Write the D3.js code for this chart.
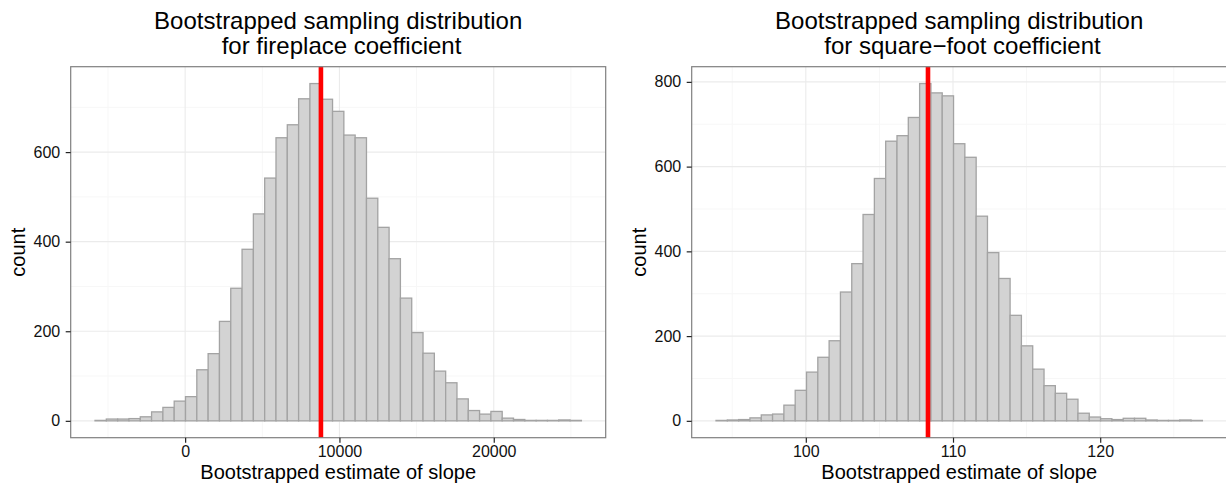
<!DOCTYPE html>
<html>
<head>
<meta charset="utf-8">
<script src="https://cdn.jsdelivr.net/npm/d3@7"></script>
<style>
  body { margin: 0; background: #fff; }
  text { font-family: "Liberation Sans", Arial, Helvetica, sans-serif; }
</style>
</head>
<body>
<div id="chart"></div>
<script>
// histogram counts (43 bins each)
const fireplaceCounts = [1, 4, 4, 5, 9, 20, 30, 44, 54, 114, 150, 222, 296, 383, 462, 542, 632, 661, 719, 753,
  718, 691, 638, 632, 497, 432, 362, 274, 197, 151, 111, 85, 49, 23, 15, 21, 6, 3, 1, 1, 1, 2, 1];
const fireplaceBinStart = -5840;
const fireplaceBinWidth = 733;
const fireplaceEstimate = 8800;

const sqftCounts = [1, 2, 3, 7, 14, 16, 37, 72, 115, 150, 189, 304, 371, 487, 572, 660, 673, 716, 796, 774,
  767, 654, 622, 483, 397, 336, 249, 177, 122, 83, 65, 51, 18, 9, 5, 3, 6, 6, 2, 1, 1, 2, 1];
const sqftBinStart = 93.9;
const sqftBinWidth = 0.7684;
const sqftEstimate = 108.3;

// tick labels
const fireplaceXTicks = [0, 10000, 20000];
const fireplaceXMinor = [-5000, 5000, 15000, 25000];
const fireplaceYTicks = [0, 200, 400, 600];
const sqftXTicks = [100, 110, 120];
const sqftXMinor = [95, 105, 115, 125];
const sqftYTicks = [0, 200, 400, 600, 800];
const yMinor = [100, 300, 500, 700];

const titles = [
  ["Bootstrapped sampling distribution", " for fireplace coefficient"],
  ["Bootstrapped sampling distribution", " for square\u2212foot coefficient"]
];
const xTitle = "Bootstrapped estimate of slope";
const yTitle = "count";

const width = 1226, height = 491;
const svg = d3.select("#chart").append("svg")
  .attr("width", width)
  .attr("height", height);

function drawPanel(opts) {
  const { left, counts, binStart, binWidth, estimate, xTicks, xMinor, yTicks, title } = opts;
  const top = 66.7, panelW = 535, panelH = 371;

  const bins = counts.map((c, i) => ({ x0: binStart + i * binWidth, x1: binStart + (i + 1) * binWidth, count: c }));
  const xMin = bins[0].x0, xMax = bins[bins.length - 1].x1;
  const xPad = (xMax - xMin) * 0.05;
  const yMax = d3.max(counts);

  const x = d3.scaleLinear().domain([xMin - xPad, xMax + xPad]).range([0, panelW]);
  const y = d3.scaleLinear().domain([-yMax * 0.05, yMax * 1.05]).range([panelH, 0]);

  const g = svg.append("g").attr("transform", `translate(${left},${top})`);

  // minor grid
  g.selectAll(".xminor").data(xMinor).enter().append("line")
    .attr("x1", d => x(d)).attr("x2", d => x(d))
    .attr("y1", 0).attr("y2", panelH)
    .attr("stroke", "#f7f7f7").attr("stroke-width", 1);
  g.selectAll(".yminor").data(yMinor.filter(d => y(d) > 0)).enter().append("line")
    .attr("x1", 0).attr("x2", panelW)
    .attr("y1", d => y(d)).attr("y2", d => y(d))
    .attr("stroke", "#f7f7f7").attr("stroke-width", 1);
  // major grid
  g.selectAll(".xmajor").data(xTicks).enter().append("line")
    .attr("x1", d => x(d)).attr("x2", d => x(d))
    .attr("y1", 0).attr("y2", panelH)
    .attr("stroke", "#ebebeb").attr("stroke-width", 1.1);
  g.selectAll(".ymajor").data(yTicks).enter().append("line")
    .attr("x1", 0).attr("x2", panelW)
    .attr("y1", d => y(d)).attr("y2", d => y(d))
    .attr("stroke", "#ebebeb").attr("stroke-width", 1.1);

  // bars
  g.selectAll(".bar").data(bins).enter().append("rect")
    .attr("x", d => x(d.x0))
    .attr("y", d => y(d.count))
    .attr("width", d => x(d.x1) - x(d.x0))
    .attr("height", d => y(0) - y(d.count))
    .attr("fill", "#d3d3d3")
    .attr("stroke", "#a3a3a3")
    .attr("stroke-width", 1.3);

  // estimate line
  g.append("line")
    .attr("x1", x(estimate)).attr("x2", x(estimate))
    .attr("y1", 0).attr("y2", panelH)
    .attr("stroke", "red").attr("stroke-width", 4.6);

  // border
  g.append("rect")
    .attr("width", panelW).attr("height", panelH)
    .attr("fill", "none").attr("stroke", "#7f7f7f").attr("stroke-width", 1.2);

  // axes
  const xAxis = g.append("g")
    .attr("transform", `translate(0,${panelH})`)
    .call(d3.axisBottom(x).tickValues(xTicks).tickSize(5).tickPadding(3).tickFormat(d3.format("d")));
  const yAxis = g.append("g")
    .call(d3.axisLeft(y).tickValues(yTicks).tickSize(5).tickPadding(5.5).tickFormat(d3.format("d")));
  [xAxis, yAxis].forEach(a => {
    a.select(".domain").remove();
    a.selectAll(".tick line").attr("stroke", "#222").attr("stroke-width", 1.2);
    a.selectAll(".tick text")
      .attr("font-family", "Liberation Sans, Arial, sans-serif")
      .attr("font-size", 16).attr("fill", "#111");
  });

  // axis titles
  g.append("text")
    .attr("x", panelW / 2).attr("y", panelH + 41.5)
    .attr("text-anchor", "middle").attr("font-size", 20).attr("fill", "#000")
    .text(xTitle);
  g.append("text")
    .attr("transform", `translate(-46,${panelH / 2}) rotate(-90)`)
    .attr("text-anchor", "middle").attr("font-size", 20).attr("fill", "#000")
    .text(yTitle);

  // title
  const t = g.append("text")
    .attr("text-anchor", "middle").attr("font-size", 24).attr("fill", "#000")
    .style("white-space", "pre");
  title.forEach((line, i) => {
    t.append("tspan").attr("x", panelW / 2).attr("y", -38.2 + i * 25).text(line);
  });
}

drawPanel({
  left: 70.7, counts: fireplaceCounts, binStart: fireplaceBinStart, binWidth: fireplaceBinWidth,
  estimate: fireplaceEstimate, xTicks: fireplaceXTicks, xMinor: fireplaceXMinor, yTicks: fireplaceYTicks,
  title: titles[0]
});
drawPanel({
  left: 691.7, counts: sqftCounts, binStart: sqftBinStart, binWidth: sqftBinWidth,
  estimate: sqftEstimate, xTicks: sqftXTicks, xMinor: sqftXMinor, yTicks: sqftYTicks,
  title: titles[1]
});
</script>
</body>
</html>
